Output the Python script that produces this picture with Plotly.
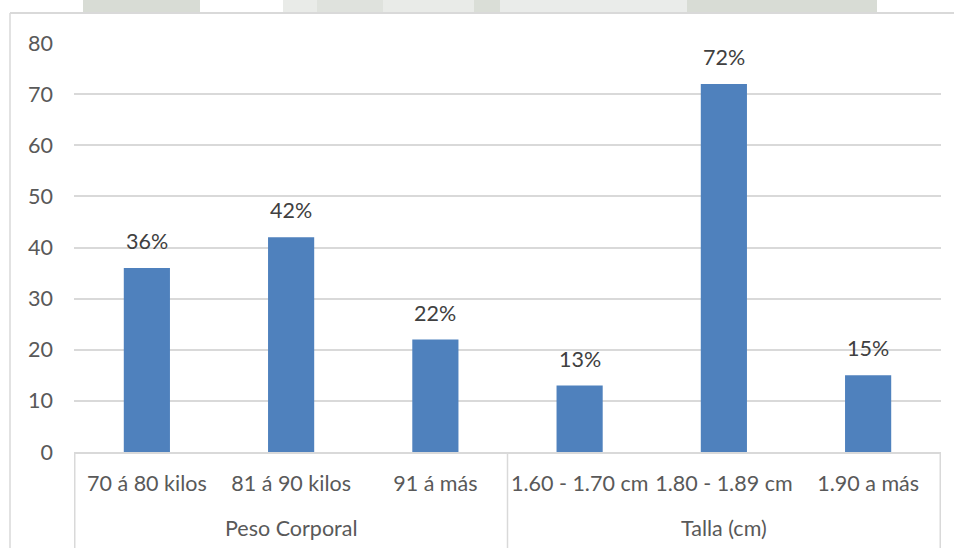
import plotly.graph_objects as go

groups = ["Peso Corporal", "Talla (cm)"]
group_members = [3, 3]
categories = ["70 á 80 kilos", "81 á 90 kilos", "91 á más",
              "1.60 - 1.70 cm", "1.80 - 1.89 cm", "1.90 a más"]
values = [36, 42, 22, 13, 72, 15]
labels = ["36%", "42%", "22%", "13%", "72%", "15%"]

FONT = "Lato"
FS = 21.5
fig = go.Figure()
fig.add_trace(go.Bar(
    x=categories, y=values,
    marker=dict(color="#4f81bd", line=dict(width=0)),
    width=0.32,
    cliponaxis=False,
))

# data labels
for c, v, t in zip(categories, values, labels):
    fig.add_annotation(x=c, y=v, text=t, showarrow=False, xref="x", yref="y",
                       yanchor="bottom", yshift=12,
                       font=dict(family=FONT, size=FS, color="#404040"))

H = 409.0   # plot height in px
W = 867.0   # plot width in px
# group labels and dividers
start = 0
bounds = [-0.5]
for g, n in zip(groups, group_members):
    mid = start + (n - 1) / 2
    fig.add_annotation(x=mid, y=-(528 - 452) / H, xref="x", yref="paper",
                       text=g, showarrow=False, yanchor="middle",
                       font=dict(family=FONT, size=FS, color="#595959"))
    start += n
    bounds.append(start - 0.5)
for b in bounds:
    fig.add_shape(type="line", xref="x", yref="paper", x0=b, x1=b,
                  y0=0, y1=-(548 - 452) / H - 0.01,
                  line=dict(color="#d9d9d9", width=1.5))

# faint watermark band above the chart frame
for x0, x1, c in [(83, 200, "#d8dcd5"), (283, 474, "#e9ebe8"), (317, 383, "#dfe2dd"),
                  (474, 500, "#dadeD7"), (500, 687, "#eaecea"), (687, 877, "#d8dcd5")]:
    fig.add_shape(type="rect", xref="paper", yref="paper",
                  x0=(x0 - 74) / W, x1=(x1 - 74) / W,
                  y0=(452 - 13) / H, y1=(452 - 0) / H + 0.01,
                  fillcolor=c, line=dict(width=0), layer="below")
# chart frame
fig.add_shape(type="line", xref="paper", yref="paper",
              x0=(10 - 74) / W, x1=(954 - 74) / W + 0.01,
              y0=(452 - 13) / H, y1=(452 - 13) / H,
              line=dict(color="#d9d9d9", width=2))
fig.add_shape(type="line", xref="paper", yref="paper",
              x0=(10 - 74) / W, x1=(10 - 74) / W,
              y0=(452 - 13) / H, y1=-(548 - 452) / H - 0.01,
              line=dict(color="#d9d9d9", width=1.5))

fig.update_layout(
    width=954, height=548,
    margin=dict(l=74, r=13, t=43, b=96),
    paper_bgcolor="white", plot_bgcolor="white",
    showlegend=False,
    font=dict(family=FONT, size=FS, color="#595959"),
    xaxis=dict(
        type="category",
        showline=True, linecolor="#d9d9d9", linewidth=1.5,
        tickfont=dict(family=FONT, size=FS, color="#595959"),
        ticks="", ticklabelstandoff=11,
    ),
    yaxis=dict(
        range=[0, 80], dtick=10,
        showgrid=True, gridcolor="#d9d9d9", gridwidth=1.5,
        zeroline=False,
        tickfont=dict(family=FONT, size=FS, color="#595959"),
        ticks="", ticklabelstandoff=20,
    ),
)

fig.write_html("out.html")
